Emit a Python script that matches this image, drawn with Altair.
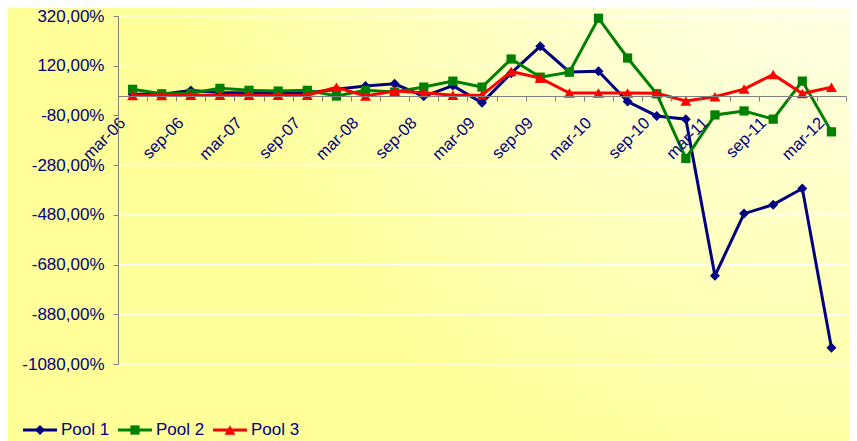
import altair as alt
import pandas as pd

# ---------------- data ----------------
categories = [
    "mar-06", "jun-06", "sep-06", "dec-06",
    "mar-07", "jun-07", "sep-07", "dec-07",
    "mar-08", "jun-08", "sep-08", "dec-08",
    "mar-09", "jun-09", "sep-09", "dec-09",
    "mar-10", "jun-10", "sep-10", "dec-10",
    "mar-11", "jun-11", "sep-11", "dec-11",
    "mar-12",
]
pool1 = [5, 5, 20, 12, 10, 10, 10, 25, 38, 47, -3, 40, -29, 90, 198, 95, 98,
         -24, -82, -95, -725, -475, -439, -374, -1015]
pool2 = [25, 7, 9, 29, 21, 18, 21, -2, 21, 14, 34, 58, 34, 147, 74, 94, 311,
         151, 7, -253, -78, -62, -95, 58, -146]
pool3 = [0, 0, 1, 1, 1, 1, 1, 33, -2, 18, 11, 1, 2, 97, 70, 10, 10, 10, 9,
         -22, -5, 26, 85, 8, 33]

series_names = ["Pool 1", "Pool 2", "Pool 3"]
series_colors = ["#000080", "#008000", "#FF0000"]
series_shapes = ["diamond", "square", "triangle-up"]
series_sizes = [100, 85, 120]
y_ticks = [320, 120, -80, -280, -480, -680, -880, -1080]

# ---------------- layout ----------------
W, H = 728, 348
PAD = {"left": 110, "top": 8, "right": 3, "bottom": 77}
FONT = "Liberation Sans"
TEXT_COLOR = "#000080"
AXIS_COLOR = "#808080"

xscale = alt.Scale(type="band", domain=categories, paddingInner=0, paddingOuter=0)
yscale = alt.Scale(domain=[-1080, 320], nice=False, zero=False)

x_axis = alt.Axis(
    orient="bottom", offset=-268, title=None, grid=False,
    domainColor=AXIS_COLOR, tickColor=AXIS_COLOR, tickSize=5, tickBand="extent",
    labelAngle=-45, labelAlign="right", labelBaseline="middle",
    labelPadding=19, labelOffset=-10, labelOverlap=False, labelFlush=False,
    labelFont=FONT, labelFontSize=16.5, labelColor=TEXT_COLOR,
    labelExpr="(substring(datum.label,0,3)=='mar' || substring(datum.label,0,3)=='sep') ? datum.label : ''",
    zindex=1,
)
y_axis = alt.Axis(
    values=y_ticks, title=None, grid=False,
    domainColor=AXIS_COLOR, tickColor=AXIS_COLOR, tickSize=5,
    labelFont=FONT, labelFontSize=17, labelColor=TEXT_COLOR, labelPadding=9,
    labelExpr="(datum.value < 0 ? '-' : '') + replace(format(abs(datum.value), '.2f'), '.', ',') + '%'",
    zindex=1,
)

# background (whole chart) radial gradient from top-right corner
bg = alt.Chart(pd.DataFrame({"a": [0]})).mark_rect(
    fill=alt.RadialGradient(
        gradient="radial",
        stops=[alt.GradientStop(color="#FFFFFF", offset=0),
               alt.GradientStop(color="#FFFFD8", offset=0.4),
               alt.GradientStop(color="#FFFF99", offset=1)],
        x1=1, y1=0, r1=0, x2=1, y2=0, r2=0.85,
    ),
    strokeWidth=0,
).encode(
    x=alt.value(-PAD["left"]), x2=alt.value(W + PAD["right"]),
    y=alt.value(-PAD["top"]), y2=alt.value(H + PAD["bottom"]),
)

# gridlines
grid = alt.Chart(pd.DataFrame({"tick": y_ticks})).mark_rule(
    color="#FFFFFF", strokeWidth=1
).encode(
    y=alt.Y("tick:Q", scale=yscale, axis=y_axis),
    x=alt.value(0), x2=alt.value(W),
)

layers = [bg, grid]
for name, vals, col, shp, sz in zip(series_names, [pool1, pool2, pool3],
                                     series_colors, series_shapes, series_sizes):
    d = pd.DataFrame({"period": categories, "value": vals})
    base = alt.Chart(d).encode(
        x=alt.X("period:N", scale=xscale, axis=x_axis, sort=categories),
        y=alt.Y("value:Q", scale=yscale, axis=y_axis),
    )
    layers.append(base.mark_line(color=col, strokeWidth=3))
    layers.append(base.mark_point(shape=shp, filled=True, opacity=1,
                                  color=col, size=sz))

# manual legend (line + marker + label)
leg_y = 414
leg_x = [(-95, -61, -57), (0, 34, 38), (95, 129, 133)]
for name, col, shp, sz, (x0, x1, xt) in zip(series_names, series_colors,
                                            series_shapes, series_sizes, leg_x):
    ld = pd.DataFrame({"series": [name]})
    lb = alt.Chart(ld)
    layers.append(lb.mark_rule(color=col, strokeWidth=3).encode(
        x=alt.value(x0), x2=alt.value(x1), y=alt.value(leg_y)))
    layers.append(lb.mark_point(shape=shp, filled=True, opacity=1, color=col,
                                size=sz).encode(
        x=alt.value((x0 + x1) / 2), y=alt.value(leg_y)))
    layers.append(lb.mark_text(align="left", baseline="middle", font=FONT,
                               fontSize=17, color=TEXT_COLOR).encode(
        x=alt.value(xt), y=alt.value(leg_y), text="series:N"))

chart = alt.layer(*layers).properties(
    width=W, height=H,
    autosize=alt.AutoSizeParams(type="none"),
    padding=PAD,
    background="#FFFF99",
).configure_view(stroke=None)

chart.save("out.html", embed_options={"renderer": "svg", "actions": False})
